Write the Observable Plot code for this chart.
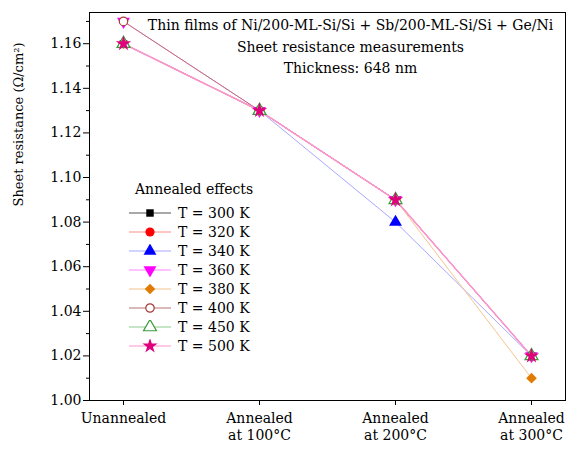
<!DOCTYPE html>
<html>
<head>
<meta charset="utf-8">
<script src="https://cdn.jsdelivr.net/npm/d3@7"></script>
<script src="https://cdn.jsdelivr.net/npm/@observablehq/plot@0.6"></script>
<style>
  body { margin: 0; background: #fff; }
  #wrap { position: relative; width: 569px; height: 454px; font-family: "DejaVu Serif", serif; }
  #legend { position: absolute; left: 128px; top: 178px; font-size: 14px; color: #000; }
  #legend .title { margin-left: 7px; height: 25px; line-height: 22px; }
  #legend .row { display: flex; align-items: center; height: 19px; }
  #legend .row span { margin-left: 6px; }
</style>
</head>
<body>
<div id="wrap"></div>
<script>
const stages = ["Unannealed", "Annealed\nat 100°C", "Annealed\nat 200°C", "Annealed\nat 300°C"];
const series = ["T = 300 K", "T = 320 K", "T = 340 K", "T = 360 K", "T = 380 K", "T = 400 K", "T = 450 K", "T = 500 K"];
const t300 = [1.16, 1.13, 1.09, 1.02];
const t320 = [1.16, 1.13, 1.09, 1.02];
const t340 = [1.16, 1.13, 1.08, 1.02];
const t360 = [1.17, 1.13, 1.09, 1.02];
const t380 = [1.16, 1.13, 1.09, 1.01];
const t400 = [1.17, 1.13, 1.09, 1.02];
const t450 = [1.16, 1.13, 1.09, 1.02];
const t500 = [1.16, 1.13, 1.09, 1.02];
const yTicks = [1.00, 1.02, 1.04, 1.06, 1.08, 1.10, 1.12, 1.14, 1.16];
const yMinorTicks = [1.01, 1.03, 1.05, 1.07, 1.09, 1.11, 1.13, 1.15, 1.17];
const titleLines = ["Thin films of Ni/200-ML-Si/Si + Sb/200-ML-Si/Si + Ge/Ni", "Sheet resistance measurements", "Thickness: 648 nm"];
const legendTitle = "Annealed effects";
const yLabel = "Sheet resistance (Ω/cm²)";

const values = [t300, t320, t340, t360, t380, t400, t450, t500];
const FONT = '"DejaVu Serif", serif';

const triangleDown = {
  draw(ctx, size) {
    const y = -Math.sqrt(size / (Math.sqrt(3) * 3));
    ctx.moveTo(0, -y * 2);
    ctx.lineTo(-Math.sqrt(3) * y, y);
    ctx.lineTo(Math.sqrt(3) * y, y);
    ctx.closePath();
  }
};
const styles = [
  {line: "#555555", mark: "#000000", symbol: "square", hollow: false, r: 4.2, w: 1},
  {line: "#ff8a8a", mark: "#ff0000", symbol: "circle", hollow: false, r: 4.6, w: 1},
  {line: "#a8a8ff", mark: "#0000ff", symbol: "triangle", hollow: false, r: 4.8, w: 1},
  {line: "#ff88ff", mark: "#ff00ff", symbol: triangleDown, hollow: false, r: 4.8, w: 1},
  {line: "#f6c48e", mark: "#e07c06", symbol: "diamond2", hollow: false, r: 4.8, w: 1},
  {line: "#b97474", mark: "#a83c3c", symbol: "circle", hollow: true, r: 4.2, w: 1},
  {line: "#8ccc8c", mark: "#3a9a3a", symbol: "triangle", hollow: true, r: 4.8, w: 1},
  {line: "#ff94d0", mark: "#e0007c", symbol: "star", hollow: false, r: 4.8, w: 1.5}
];

const rows = [];
series.forEach((s, i) => values[i].forEach((v, j) => rows.push({series: s, idx: i, stage: stages[j], value: v})));

const marks = [
  Plot.frame({stroke: "#000"}),
  Plot.axisX({tickSize: 5, tickPadding: 6, fontSize: 14, lineHeight: 1.2, label: null}),
  Plot.axisY({ticks: yTicks, tickSize: 6, tickPadding: 2, tickFormat: d3.format(".2f"), fontSize: 14, label: null}),
  Plot.axisY({ticks: yMinorTicks, tickSize: 3, tickFormat: () => "", label: null}),
  Plot.text([titleLines.join("\n")], {frameAnchor: "top", dx: 23, dy: 2, lineAnchor: "top", lineHeight: 1.55, fontSize: 14, text: d => d}),
  Plot.text([yLabel], {frameAnchor: "left", dx: -71, rotate: -90, fontSize: 13, text: d => d})
];
series.forEach((s, i) => {
  const st = styles[i];
  const d = rows.filter(r => r.idx === i);
  marks.push(Plot.line(d, {x: "stage", y: "value", stroke: st.line, strokeWidth: st.w}));
});
series.forEach((s, i) => {
  const st = styles[i];
  const d = rows.filter(r => r.idx === i);
  marks.push(Plot.dot(d, {x: "stage", y: "value", symbol: st.symbol, r: st.r,
    fill: st.hollow ? "white" : st.mark, stroke: st.mark, strokeWidth: st.hollow ? 1.2 : 0}));
});

const chart = Plot.plot({
  width: 569, height: 454,
  marginLeft: 89, marginRight: 4, marginTop: 12, marginBottom: 54,
  style: {fontFamily: FONT, fontSize: "14px", color: "#000", background: "#fff"},
  x: {type: "point", domain: stages, padding: 0.24},
  y: {domain: [1.0, 1.174]},
  marks
});
const wrap = document.getElementById("wrap");
wrap.appendChild(chart);

// legend
const legend = document.createElement("div");
legend.id = "legend";
const t = document.createElement("div");
t.className = "title";
t.textContent = legendTitle;
legend.appendChild(t);
series.forEach((s, i) => {
  const st = styles[i];
  const row = document.createElement("div");
  row.className = "row";
  const svg = d3.create("svg").attr("width", 44).attr("height", 14);
  svg.append("line").attr("x1", 1).attr("x2", 43).attr("y1", 7).attr("y2", 7).attr("stroke", st.line).attr("stroke-width", 1.2);
  const sym = typeof st.symbol === "string"
    ? {square: d3.symbolSquare, circle: d3.symbolCircle, triangle: d3.symbolTriangle, diamond2: d3.symbolDiamond2, star: d3.symbolStar}[st.symbol]
    : st.symbol;
  svg.append("path").attr("transform", "translate(22,7)")
    .attr("d", d3.symbol(sym, Math.PI * st.r * st.r)())
    .attr("fill", st.hollow ? "white" : st.mark).attr("stroke", st.mark).attr("stroke-width", st.hollow ? 1.2 : 0);
  row.appendChild(svg.node());
  const label = document.createElement("span");
  label.textContent = s;
  row.appendChild(label);
  legend.appendChild(row);
});
wrap.appendChild(legend);
</script>
</body>
</html>
